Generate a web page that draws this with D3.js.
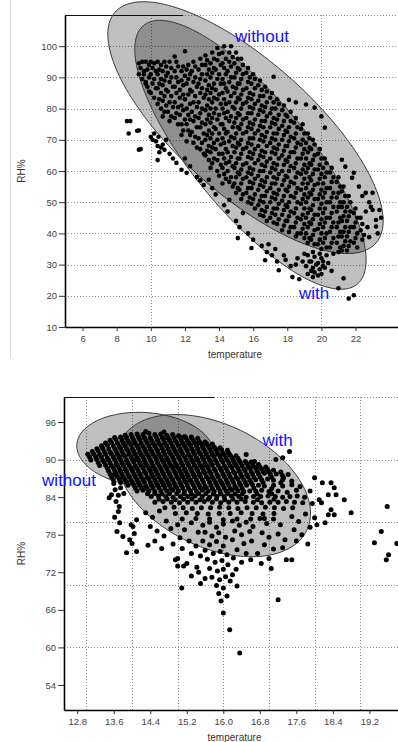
<!DOCTYPE html>
<html>
<head>
<meta charset="utf-8">
<script src="https://cdn.jsdelivr.net/npm/d3@7"></script>
<style>
  body { margin: 0; background: #fff; }
  svg { display: block; }
</style>
</head>
<body>
<svg id="chart" width="398" height="742"></svg>
<script>
// ---- top panel ----
const topXTicks = [6, 8, 10, 12, 14, 16, 18, 20, 22];
const topYTicks = [10, 20, 30, 40, 50, 60, 70, 80, 90, 100];
const topXGrid = [10, 20];
const topYGrid = [20, 30, 40, 50, 60, 70, 80, 90, 100, 110];
const topEllipses = [
  { name: 'without', cx: 15.55, cy: 73.9, rx: 8.07, ry: 40.35, rho: -0.741 },
  { name: 'with', cx: 15.84, cy: 65.2, rx: 6.78, ry: 43.1, rho: -0.784 }
];
const topLabels = [
  { text: 'without', t: 16.52, rh: 101.3 },
  { text: 'with', t: 19.57, rh: 19.0 }
];
const topPoints = [
  [8.6,76],[8.8,76],[9.3,73],[8.7,72],[9.4,67],[9.2,72.9],[9.3,66.8],
  [9.3,94.5],[9.5,95],[9.4,93],[9.6,92],[9.3,91],[9.5,89.5],[9.7,88],
  [9.7,95],[9.9,94],[9.8,92.5],[9.6,91],[9.9,90],[9.7,88.5],[9.8,87],[9.9,85.5],
  [10.0,95],[10.2,94.5],[10.1,93],[10.3,92],[10.0,91],[10.2,89.5],[10.1,88],[10.3,86.5],[10.0,85],[10.2,83.5],
  [10.0,71],[10.1,70],[10.3,69.5],[10.2,72],[10.4,68],[10.4,63.5],[10.5,66],[10.45,71],[10.6,67.5],
  [10.4,95],[10.6,94],[10.5,92.5],[10.4,91],[10.6,89.5],[10.5,88],[10.4,86.5],[10.6,85],[10.5,83],[10.4,81.5],[10.6,80],
  [10.8,95],[10.9,93.5],[10.7,92],[10.9,90.5],[10.8,89],[10.7,87.5],[10.9,86],[10.8,84],[10.7,82.5],[10.9,81],[10.8,79],[10.7,77.5],
  [10.8,66.8],[10.7,68.5],[10.9,70],
  [11.1,95],[11.2,93],[11.0,91.5],[11.2,90],[11.1,88.5],[11.3,87],[11.0,85.5],[11.2,84],[11.1,82],[11.3,80.5],[11.0,79],[11.2,77.5],[11.1,76],
  [11.1,65.5],[11.3,64],
  [11.5,95],[11.4,96.7],[11.6,93.5],[11.4,92],[11.5,90],[11.6,88.5],[11.4,87],[11.5,85],[11.7,83.5],[11.4,82],[11.6,80.5],[11.5,78.5],[11.4,77],[11.6,75],[11.5,62.6],
  [11.9,93.5],[11.8,92],[12.0,90.5],[11.8,89],[11.9,87.5],[11.7,86],[11.9,84.5],[12.0,83],[11.8,81],[11.9,79.5],[11.7,78],[12.0,76.5],[11.8,75],[11.9,73],[11.8,71.5],
  [11.8,60.4],[12.0,64],
  [12.0,98.4],[12.2,94],[12.1,92.5],[12.3,91],[12.2,89.5],[12.1,88],[12.3,86],[12.2,84.5],[12.0,83],[12.3,81.5],[12.1,80],[12.2,78],[12.3,76.5],[12.1,75],[12.2,73],[12.3,71.5],[12.1,69.5],
  [12.1,59.4],[12.3,61.5],
  [12.5,95],[12.6,93.5],[12.4,92],[12.6,90],[12.5,88.5],[12.7,87],[12.4,85.5],[12.6,84],[12.5,82],[12.7,80.5],[12.4,79],[12.6,77.5],[12.5,76],[12.7,74],[12.4,72.5],[12.6,71],[12.5,69],[12.7,67.5],
  [12.7,58.1],
  [12.9,96],[13.0,94],[12.8,92.5],[13.0,91],[12.9,89.5],[12.8,88],[13.0,86.5],[12.9,85],[13.1,83.5],[12.8,82],[13.0,80],[12.9,78.5],[12.8,77],[13.0,75.5],[12.9,74],[13.1,72],[12.8,70.5],[13.0,69],[12.9,67],[13.1,65.5],
  [12.9,57],[13.1,55.5],
  [13.2,97],[13.3,95.5],[13.2,94],[13.4,92.5],[13.3,91],[13.2,89],[13.4,87.5],[13.3,86],[13.2,84.5],[13.4,83],[13.3,81],[13.2,79.5],[13.4,78],[13.3,76.5],[13.2,75],[13.4,73],[13.3,71.5],[13.2,70],[13.4,68],[13.3,66.5],[13.2,65],[13.4,63.5],
  [13.4,57.2],
  [13.6,98],[13.7,96],[13.5,94.5],[13.7,93],[13.6,91.5],[13.5,90],[13.7,88],[13.6,86.5],[13.5,85],[13.7,83.5],[13.6,82],[13.5,80],[13.7,78.5],[13.6,77],[13.5,75.5],[13.7,74],[13.6,72],[13.5,70.5],[13.7,69],[13.6,67.5],[13.5,66],[13.7,64],[13.6,62.5],[13.5,61],
  [13.6,54.5],[13.8,52.5],
  [13.9,99.4],[14.0,97.5],[13.9,95.5],[14.1,94],[13.8,92.5],[14.0,91],[13.9,89.5],[14.1,88],[13.8,86],[14.0,84.5],[13.9,83],[14.1,81.5],[13.8,80],[14.0,78],[13.9,76.5],[14.1,75],[13.8,73.5],[14.0,72],[13.9,70],[14.1,68.5],[13.8,67],[14.0,65.5],[13.9,63.5],[14.1,62],[13.9,60],[14.0,58.5],
  [14.2,97.9],[14.3,100],[14.4,96],[14.2,94.5],[14.3,93],[14.4,91],[14.2,89.5],[14.3,88],[14.4,86.5],[14.2,85],[14.3,83],[14.4,81.5],[14.2,80],[14.3,78.5],[14.4,77],[14.2,75],[14.3,73.5],[14.4,72],[14.2,70.5],[14.3,69],[14.4,67],[14.2,65.5],[14.3,64],[14.4,62.5],[14.2,61],[14.3,59],[14.4,57.5],[14.2,56],
  [14.3,49],[14.5,47],
  [14.7,100],[14.6,98],[14.8,96.5],[14.6,95],[14.7,93.5],[14.5,92],[14.7,90],[14.6,88.5],[14.8,87],[14.5,85.5],[14.7,84],[14.6,82],[14.8,80.5],[14.5,79],[14.7,77.5],[14.6,76],[14.8,74],[14.5,72.5],[14.7,71],[14.6,69.5],[14.8,68],[14.5,66],[14.7,64.5],[14.6,63],[14.8,61.5],[14.5,60],[14.7,58],[14.6,56.5],[14.8,55],
  [14.6,50.8],
  [15.0,98],[15.1,96],[14.9,94.5],[15.1,93],[15.0,91.5],[14.9,90],[15.1,88],[15.0,86.5],[14.9,85],[15.1,83.5],[15.0,82],[14.9,80],[15.1,78.5],[15.0,77],[14.9,75.5],[15.1,74],[15.0,72],[14.9,70.5],[15.1,69],[15.0,67.5],[14.9,66],[15.1,64],[15.0,62.5],[14.9,61],[15.1,59.5],[15.0,58],[14.9,56],[15.1,54.5],[15.0,53],
  [15.1,38.5],[15.0,44],[15.2,42],
  [15.3,96],[15.4,94],[15.2,92.5],[15.4,91],[15.3,89.5],[15.2,88],[15.4,86],[15.3,84.5],[15.2,83],[15.4,81.5],[15.3,80],[15.2,78],[15.4,76.5],[15.3,75],[15.2,73.5],[15.4,72],[15.3,70],[15.2,68.5],[15.4,67],[15.3,65.5],[15.2,64],[15.4,62],[15.3,60.5],[15.2,59],[15.4,57.5],[15.3,56],[15.2,54],[15.4,52.5],[15.3,51],[15.4,46.5],
  [15.7,93],[15.6,91.5],[15.8,90],[15.7,88.5],[15.6,86.5],[15.8,85],[15.7,83.5],[15.6,82],[15.8,80.5],[15.7,78.5],[15.6,77],[15.8,75.5],[15.7,74],[15.6,72.5],[15.8,70.5],[15.7,69],[15.6,67.5],[15.8,66],[15.7,64.5],[15.6,62.5],[15.8,61],[15.7,59.5],[15.6,58],[15.8,56.5],[15.7,54.5],[15.6,53],[15.8,51.5],[15.7,50],[15.9,35.3],[15.7,40],
  [16.0,91],[16.1,89.5],[15.9,88],[16.1,86.5],[16.0,84.5],[15.9,83],[16.1,81.5],[16.0,80],[15.9,78.5],[16.1,76.5],[16.0,75],[15.9,73.5],[16.1,72],[16.0,70.5],[15.9,68.5],[16.1,67],[16.0,65.5],[15.9,64],[16.1,62.5],[16.0,60.5],[15.9,59],[16.1,57.5],[16.0,56],[15.9,54.5],[16.1,52.5],[16.0,51],[15.9,49.5],[16.1,48],[16.0,38],
  [16.4,89],[16.3,87.5],[16.5,86],[16.4,84],[16.3,82.5],[16.5,81],[16.4,79.5],[16.3,78],[16.5,76],[16.4,74.5],[16.3,73],[16.5,71.5],[16.4,70],[16.3,68],[16.5,66.5],[16.4,65],[16.3,63.5],[16.5,62],[16.4,60],[16.3,58.5],[16.5,57],[16.4,55.5],[16.3,54],[16.5,52],[16.4,50.5],[16.3,49],[16.5,47.5],[16.4,46],[16.7,31.4],[16.5,36],
  [16.7,87],[16.8,85.5],[16.6,84],[16.8,82],[16.7,80.5],[16.6,79],[16.8,77.5],[16.7,76],[16.6,74],[16.8,72.5],[16.7,71],[16.6,69.5],[16.8,68],[16.7,66],[16.6,64.5],[16.8,63],[16.7,61.5],[16.6,60],[16.8,58],[16.7,56.5],[16.6,55],[16.8,53.5],[16.7,52],[16.6,50],[16.8,48.5],[16.7,47],[16.6,45.5],[16.8,44],[16.8,34],[16.9,36.5],
  [17.2,90.2],[17.1,85],[17.0,83.5],[17.2,82],[17.1,80],[17.0,78.5],[17.2,77],[17.1,75.5],[17.0,74],[17.2,72],[17.1,70.5],[17.0,69],[17.2,67.5],[17.1,66],[17.0,64],[17.2,62.5],[17.1,61],[17.0,59.5],[17.2,58],[17.1,56],[17.0,54.5],[17.2,53],[17.1,51.5],[17.0,50],[17.2,48],[17.1,46.5],[17.0,45],[17.2,43.5],[17.1,33],[17.3,35],
  [17.4,83],[17.5,81.5],[17.3,80],[17.5,78],[17.4,76.5],[17.3,75],[17.5,73.5],[17.4,72],[17.3,70],[17.5,68.5],[17.4,67],[17.3,65.5],[17.5,64],[17.4,62],[17.3,60.5],[17.5,59],[17.4,57.5],[17.3,56],[17.5,54],[17.4,52.5],[17.3,51],[17.5,49.5],[17.4,48],[17.3,46],[17.5,44.5],[17.4,43],[17.5,28.2],[17.4,31],
  [17.8,81],[17.7,79.5],[17.9,78],[17.8,76],[17.7,74.5],[17.9,73],[17.8,71.5],[17.7,70],[17.9,68],[17.8,66.5],[17.7,65],[17.9,63.5],[17.8,62],[17.7,60],[17.9,58.5],[17.8,57],[17.7,55.5],[17.9,54],[17.8,52],[17.7,50.5],[17.9,49],[17.8,47.5],[17.7,46],[17.9,44],[17.8,42.5],[17.7,41],[17.9,31.5],[17.8,33],
  [18.1,82.8],[18.2,79],[18.0,77.5],[18.2,76],[18.1,74],[18.0,72.5],[18.2,71],[18.1,69.5],[18.0,68],[18.2,66],[18.1,64.5],[18.0,63],[18.2,61.5],[18.1,60],[18.0,58],[18.2,56.5],[18.1,55],[18.0,53.5],[18.2,52],[18.1,50],[18.0,48.5],[18.2,47],[18.1,45.5],[18.0,44],[18.2,42],[18.1,40.5],[18.3,26],[18.2,29.5],
  [18.5,82],[18.5,77],[18.4,75.5],[18.6,74],[18.5,72],[18.4,70.5],[18.6,69],[18.5,67.5],[18.4,66],[18.6,64],[18.5,62.5],[18.4,61],[18.6,59.5],[18.5,58],[18.4,56],[18.6,54.5],[18.5,53],[18.4,51.5],[18.6,50],[18.5,48],[18.4,46.5],[18.6,45],[18.5,43.5],[18.4,42],[18.6,40],[18.5,39],[18.7,25.3],[18.5,30],[18.6,32],
  [18.9,75],[18.8,73.5],[19.0,72],[18.9,70],[18.8,68.5],[19.0,67],[18.9,65.5],[18.8,64],[19.0,62],[18.9,60.5],[18.8,59],[19.0,57.5],[18.9,56],[18.8,54],[19.0,52.5],[18.9,51],[18.8,49.5],[19.0,48],[18.9,46],[18.8,44.5],[19.0,43],[18.9,41.5],[18.8,40],[19.0,38.5],[18.9,31],[19.0,33.5],
  [19.1,81.3],[19.2,72],[19.3,70.5],[19.1,69],[19.3,67.5],[19.2,66],[19.1,64],[19.3,62.5],[19.2,61],[19.1,59.5],[19.3,58],[19.2,56],[19.1,54.5],[19.3,53],[19.2,51.5],[19.1,50],[19.3,48],[19.2,46.5],[19.1,45],[19.3,43.5],[19.2,42],[19.1,40],[19.3,38.5],[19.2,37],
  [19.2,33],[19.3,31],[19.1,29.5],[19.4,28],[19.2,27],
  [19.6,80.3],[19.5,70],[19.6,68.5],[19.4,67],[19.6,65],[19.5,63.5],[19.4,62],[19.6,60.5],[19.5,59],[19.4,57],[19.6,55.5],[19.5,54],[19.4,52.5],[19.6,51],[19.5,49],[19.4,47.5],[19.6,46],[19.5,44.5],[19.4,43],[19.6,41],[19.5,39.5],[19.4,38],[19.6,36.5],
  [19.5,34],[19.6,32.5],[19.4,31],[19.7,30],[19.5,29],[19.6,27.5],[19.5,26],
  [20.0,77.5],[19.9,67],[19.8,65.5],[20.0,64],[19.9,62],[19.8,60.5],[20.0,59],[19.9,57.5],[19.8,56],[20.0,54],[19.9,52.5],[19.8,51],[20.0,49.5],[19.9,48],[19.8,46],[20.0,44.5],[19.9,43],[19.8,41.5],[20.0,40],[19.9,38],[19.8,36.5],[20.0,35],
  [19.9,33.5],[20.0,32],[19.8,30.5],[20.1,29.5],[19.9,28.5],[20.0,27],[19.8,26.5],[20.1,31],
  [20.2,73.9],[20.2,64],[20.3,62.5],[20.1,61],[20.3,59.5],[20.2,58],[20.1,56],[20.3,54.5],[20.2,53],[20.1,51.5],[20.3,50],[20.2,48],[20.1,46.5],[20.3,45],[20.2,43.5],[20.1,42],[20.3,40],[20.2,38.5],[20.1,37],[20.3,35.5],
  [20.3,33],[20.4,30.5],[20.2,29],
  [20.6,61],[20.5,59.5],[20.7,58],[20.6,56.5],[20.5,54.5],[20.7,53],[20.6,51.5],[20.5,50],[20.7,48.5],[20.6,46.5],[20.5,45],[20.7,43.5],[20.6,42],[20.5,40.5],[20.7,38.5],[20.6,37],[20.5,35.5],[20.7,33.5],[20.6,28],
  [21.0,58],[20.9,56.5],[21.1,55],[21.0,53],[20.9,51.5],[21.1,50],[21.0,48.5],[20.9,47],[21.1,45],[21.0,43.5],[20.9,42],[21.1,40.5],[21.0,39],[20.9,37],[21.1,35.5],[21.0,34],[21.0,22.4],[21.3,25.6],[21.2,63.6],
  [21.3,55],[21.2,53.5],[21.4,52],[21.3,50],[21.2,48.5],[21.4,47],[21.3,45.5],[21.2,44],[21.4,42],[21.3,40.5],[21.2,39],[21.4,37.5],[21.3,36],[21.2,34.5],[21.4,61.4],
  [21.6,52],[21.7,50],[21.5,48.5],[21.7,47],[21.6,45.5],[21.5,44],[21.7,42],[21.6,40.5],[21.5,39],[21.7,37.5],[21.6,36],[21.5,34.5],[21.6,19.1],[21.9,20.2],[21.9,59.4],[21.8,57.8],
  [22.0,48],[21.9,46.5],[22.1,45],[22.0,43.5],[21.9,42],[22.1,40],[22.0,38.5],[21.9,37],[22.1,35.5],[22.2,55],[22.4,52],[22.6,53],
  [22.3,45],[22.4,43],[22.3,41],[22.5,39.5],[22.4,38],[22.6,47],[22.8,50],[22.7,42],[22.8,38.8],
  [23.5,45],[23.4,47.5],[23.2,42.2],[23.0,53],[22.9,48.5],[23.3,40],[23.0,47.5],[23.2,44.3]
];

// ---- bottom panel ----
const botXTicks = [12.8, 13.6, 14.4, 15.2, 16.0, 16.8, 17.6, 18.4, 19.2];
const botYTicks = [54, 60, 66, 72, 78, 84, 90, 96];
const botXGrid = [13, 14, 15, 16, 17, 18, 19];
const botYGrid = [60, 70, 80, 90, 100];
const botEllipses = [
  { name: 'without', cx: 14.29, cy: 91.6, rx: 1.50, ry: 5.95, rho: -0.1 },
  { name: 'with', cx: 15.79, cy: 85.84, rx: 2.12, ry: 11.36, rho: -0.39 }
];
const botLabels = [
  { text: 'without', t: 12.62, rh: 85.8 },
  { text: 'with', t: 17.19, rh: 92.2 }
];
const botPoints = [
  [14.3,94.5],[14.7,94.4],[15.3,93.6],
  [13.85,93.9],[13.98,94],[14.11,94.1],[14.24,94],[14.37,94.2],[14.5,94],[14.63,94.1],[14.76,93.9],[14.89,94],[15.02,93.8],[15.15,93.7],
  [13.62,93.55],[13.75,93.6],[13.88,93.5],[14.01,93.55],[14.14,93.6],[14.27,93.55],[14.4,93.5],[14.53,93.6],[14.66,93.55],[14.79,93.5],[14.92,93.55],[15.05,93.6],[15.18,93.5],[15.31,93.45],[15.44,93.4],
  [13.52,93.1],[13.65,93.2],[13.78,93.1],[13.91,93],[14.04,93.1],[14.17,93.2],[14.3,93.1],[14.43,93],[14.56,93.1],[14.69,93.2],[14.82,93.1],[14.95,93],[15.08,93.1],[15.21,93],[15.34,93.1],[15.47,92.9],[15.6,92.8],
  [13.42,92.65],[13.55,92.7],[13.68,92.6],[13.81,92.65],[13.94,92.7],[14.07,92.65],[14.2,92.6],[14.33,92.7],[14.46,92.65],[14.59,92.6],[14.72,92.65],[14.85,92.7],[14.98,92.65],[15.11,92.6],[15.24,92.65],[15.37,92.7],[15.5,92.6],[15.63,92.55],[15.76,92.5],
  [13.33,92.2],[13.46,92.3],[13.59,92.2],[13.72,92.1],[13.85,92.2],[13.98,92.3],[14.11,92.2],[14.24,92.1],[14.37,92.2],[14.5,92.2],[14.63,92.3],[14.76,92.2],[14.89,92.1],[15.02,92.2],[15.15,92.2],[15.28,92.3],[15.41,92.2],[15.54,92.1],[15.67,92.2],[15.8,92],[15.93,91.9],
  [13.23,91.75],[13.36,91.8],[13.49,91.7],[13.62,91.75],[13.75,91.8],[13.88,91.75],[14.01,91.7],[14.14,91.8],[14.27,91.75],[14.4,91.7],[14.53,91.75],[14.66,91.8],[14.79,91.75],[14.92,91.7],[15.05,91.75],[15.18,91.8],[15.31,91.75],[15.44,91.7],[15.57,91.75],[15.7,91.8],[15.83,91.7],[15.96,91.6],[16.09,91.5],
  [13.13,91.3],[13.26,91.4],[13.39,91.3],[13.52,91.2],[13.65,91.3],[13.78,91.3],[13.91,91.4],[14.04,91.3],[14.17,91.2],[14.3,91.3],[14.43,91.3],[14.56,91.4],[14.69,91.3],[14.82,91.2],[14.95,91.3],[15.08,91.3],[15.21,91.4],[15.34,91.3],[15.47,91.2],[15.6,91.3],[15.73,91.3],[15.86,91.2],[15.99,91.1],[16.12,91],
  [13.03,90.85],[13.16,90.9],[13.29,90.8],[13.42,90.85],[13.55,90.9],[13.68,90.85],[13.81,90.8],[13.94,90.9],[14.07,90.85],[14.2,90.8],[14.33,90.85],[14.46,90.9],[14.59,90.85],[14.72,90.8],[14.85,90.85],[14.98,90.9],[15.11,90.85],[15.24,90.8],[15.37,90.85],[15.5,90.9],[15.63,90.85],[15.76,90.8],[15.89,90.85],[16.02,90.8],[16.15,90.7],[16.28,90.6],
  [13.07,90.4],[13.2,90.5],[13.33,90.4],[13.46,90.3],[13.59,90.4],[13.72,90.4],[13.85,90.5],[13.98,90.4],[14.11,90.3],[14.24,90.4],[14.37,90.4],[14.5,90.5],[14.63,90.4],[14.76,90.3],[14.89,90.4],[15.02,90.4],[15.15,90.5],[15.28,90.4],[15.41,90.3],[15.54,90.4],[15.67,90.4],[15.8,90.5],[15.93,90.4],[16.06,90.3],[16.19,90.3],[16.32,90.2],
  [13.1,89.95],[13.23,90],[13.36,89.9],[13.49,89.95],[13.62,90],[13.75,89.95],[13.88,89.9],[14.01,90],[14.14,89.95],[14.27,89.9],[14.4,89.95],[14.53,90],[14.66,89.95],[14.79,89.9],[14.92,89.95],[15.05,90],[15.18,89.95],[15.31,89.9],[15.44,89.95],[15.57,90],[15.7,89.95],[15.83,89.9],[15.96,89.95],[16.09,89.9],[16.22,89.85],[16.35,89.8],[16.48,89.7],[16.61,89.6],
  [13.26,89.5],[13.39,89.6],[13.52,89.5],[13.65,89.4],[13.78,89.5],[13.91,89.5],[14.04,89.6],[14.17,89.5],[14.3,89.4],[14.43,89.5],[14.56,89.5],[14.69,89.6],[14.82,89.5],[14.95,89.4],[15.08,89.5],[15.21,89.5],[15.34,89.6],[15.47,89.5],[15.6,89.4],[15.73,89.5],[15.86,89.5],[15.99,89.6],[16.12,89.5],[16.25,89.4],[16.38,89.5],[16.51,89.4],[16.64,89.3],[16.77,89.2],
  [13.29,89.05],[13.42,89.1],[13.55,89],[13.68,89.05],[13.81,89.1],[13.94,89.05],[14.07,89],[14.2,89.1],[14.33,89.05],[14.46,89],[14.59,89.05],[14.72,89.1],[14.85,89.05],[14.98,89],[15.11,89.05],[15.24,89.1],[15.37,89.05],[15.5,89],[15.63,89.05],[15.76,89.1],[15.89,89.05],[16.02,89],[16.15,89.05],[16.28,89.1],[16.41,89],[16.54,88.95],[16.67,88.9],[16.8,88.85],[16.93,88.8],
  [13.46,88.6],[13.59,88.7],[13.72,88.6],[13.85,88.5],[13.98,88.6],[14.11,88.6],[14.24,88.7],[14.37,88.6],[14.5,88.5],[14.63,88.6],[14.76,88.6],[14.89,88.7],[15.02,88.6],[15.15,88.5],[15.28,88.6],[15.41,88.6],[15.54,88.7],[15.67,88.6],[15.8,88.5],[15.93,88.6],[16.06,88.6],[16.19,88.7],[16.32,88.6],[16.45,88.5],[16.58,88.6],[16.71,88.6],[16.84,88.5],[16.97,88.4],[17.1,88.3],
  [13.49,88.15],[13.62,88.2],[13.75,88.1],[13.88,88.15],[14.01,88.2],[14.14,88.15],[14.27,88.1],[14.4,88.2],[14.53,88.15],[14.66,88.1],[14.79,88.15],[14.92,88.2],[15.05,88.15],[15.18,88.1],[15.31,88.15],[15.44,88.2],[15.57,88.15],[15.7,88.1],[15.83,88.15],[15.96,88.2],[16.09,88.15],[16.22,88.1],[16.35,88.15],[16.48,88.2],[16.61,88.1],[16.74,88.15],[16.87,88.1],[17.0,88.05],[17.26,88],
  [13.52,87.7],[13.65,87.8],[13.78,87.7],[13.91,87.6],[14.04,87.7],[14.17,87.7],[14.3,87.8],[14.43,87.7],[14.56,87.6],[14.69,87.7],[14.82,87.7],[14.95,87.8],[15.08,87.7],[15.21,87.6],[15.34,87.7],[15.47,87.7],[15.6,87.8],[15.73,87.7],[15.86,87.6],[15.99,87.7],[16.12,87.7],[16.25,87.8],[16.38,87.7],[16.51,87.6],[16.64,87.7],[16.77,87.7],[16.9,87.8],[17.03,87.6],[17.16,87.7],[17.29,87.5],[17.42,87.6],
  [13.55,87.25],[13.68,87.3],[13.81,87.2],[13.94,87.25],[14.07,87.3],[14.2,87.25],[14.33,87.2],[14.46,87.3],[14.59,87.25],[14.72,87.2],[14.85,87.25],[14.98,87.3],[15.11,87.25],[15.24,87.2],[15.37,87.25],[15.5,87.3],[15.63,87.25],[15.76,87.2],[15.89,87.25],[16.02,87.3],[16.15,87.25],[16.28,87.2],[16.41,87.25],[16.54,87.3],[16.67,87.2],[16.8,87.25],[17.06,87.2],[17.32,87.1],
  [13.59,86.8],[13.72,86.9],[13.85,86.8],[13.98,86.7],[14.11,86.8],[14.24,86.8],[14.37,86.9],[14.5,86.8],[14.63,86.7],[14.76,86.8],[14.89,86.8],[15.02,86.9],[15.15,86.8],[15.28,86.7],[15.41,86.8],[15.54,86.8],[15.67,86.9],[15.8,86.8],[15.93,86.7],[16.06,86.8],[16.19,86.8],[16.32,86.9],[16.45,86.8],[16.58,86.7],[16.71,86.8],[16.84,86.8],[16.97,86.9],[17.1,86.7],[17.3,86.8],[17.5,86.6],
  [13.75,86.35],[13.88,86.4],[14.01,86.3],[14.14,86.35],[14.27,86.4],[14.4,86.35],[14.53,86.3],[14.66,86.4],[14.79,86.35],[14.92,86.3],[15.05,86.35],[15.18,86.4],[15.31,86.35],[15.44,86.3],[15.57,86.35],[15.7,86.4],[15.83,86.35],[15.96,86.3],[16.09,86.35],[16.22,86.4],[16.35,86.3],[16.48,86.35],[16.61,86.3],[16.87,86.35],[17.26,86.3],
  [13.91,85.9],[14.04,86],[14.17,85.9],[14.3,85.8],[14.43,85.9],[14.56,85.9],[14.69,86],[14.82,85.9],[14.95,85.8],[15.08,85.9],[15.21,85.9],[15.34,86],[15.47,85.9],[15.6,85.8],[15.73,85.9],[15.86,85.9],[15.99,86],[16.12,85.9],[16.25,85.8],[16.38,85.9],[16.51,85.9],[16.64,86],[16.77,85.9],[16.9,85.8],[17.1,85.9],[17.3,85.8],[17.5,86],[17.68,85.7],
  [14.07,85.45],[14.2,85.5],[14.33,85.4],[14.46,85.45],[14.59,85.5],[14.72,85.45],[14.85,85.4],[14.98,85.5],[15.11,85.45],[15.24,85.4],[15.37,85.45],[15.5,85.5],[15.63,85.45],[15.76,85.4],[15.89,85.45],[16.02,85.5],[16.15,85.4],[16.28,85.45],[16.41,85.4],[16.67,85.45],[17.06,85.4],
  [14.11,85],[14.24,85.1],[14.37,85],[14.5,84.9],[14.63,85],[14.76,85],[14.89,85.1],[15.02,85],[15.15,84.9],[15.28,85],[15.41,85],[15.54,85.1],[15.67,85],[15.8,84.9],[15.93,85],[16.06,85],[16.19,85.1],[16.32,85],[16.45,84.9],[16.58,85],[16.71,85],[16.84,85.1],[17.0,84.9],[17.2,85],[17.4,84.8],[17.6,85.1],
  [14.34,84.55],[14.5,84.6],[14.66,84.5],[14.82,84.55],[14.98,84.6],[15.14,84.55],[15.3,84.5],[15.46,84.6],[15.62,84.55],[15.78,84.5],[15.94,84.55],[16.1,84.6],[16.26,84.5],[16.42,84.55],[16.74,84.5],[17.06,84.55],
  [14.42,84.1],[14.58,84.2],[14.74,84.1],[14.9,84],[15.06,84.1],[15.22,84.1],[15.38,84.2],[15.54,84.1],[15.7,84],[15.86,84.1],[16.02,84.1],[16.18,84.2],[16.34,84.1],[16.5,84],[16.66,84.1],[16.82,84.1],[16.98,84.2],[17.14,84.1],[17.3,84],[17.46,84.1],[17.62,84.2],[17.78,84],
  [14.59,83.65],[14.77,83.7],[14.95,83.6],[15.13,83.65],[15.31,83.7],[15.49,83.6],[15.67,83.65],[15.85,83.7],[16.03,83.6],[16.21,83.65],[16.39,83.7],[16.75,83.6],[17.11,83.65],
  [14.5,83.2],[14.68,83.3],[14.86,83.2],[15.04,83.1],[15.22,83.2],[15.4,83.2],[15.58,83.3],[15.76,83.2],[15.94,83.1],[16.12,83.2],[16.3,83.2],[16.48,83.3],[16.66,83.2],[16.84,83.1],[17.02,83.2],[17.2,83.2],[17.38,83.3],[17.56,83.2],[17.74,83.1],
  [14.72,82.3],[14.92,82.4],[15.12,82.3],[15.32,82.2],[15.52,82.3],[15.72,82.3],[15.92,82.4],[16.12,82.3],[16.32,82.2],[16.52,82.3],[16.72,82.3],[16.92,82.4],[17.12,82.3],[17.32,82.2],[17.52,82.3],
  [14.95,81.4],[15.19,81.5],[15.43,81.4],[15.67,81.3],[15.91,81.4],[16.15,81.4],[16.39,81.5],[16.63,81.4],[16.87,81.3],[17.11,81.4],
  [15.1,80.5],[15.4,80.6],[15.7,80.5],[16.0,80.4],[16.3,80.5],[16.6,80.5],[16.9,80.6],
  [13.63,85.2],[13.7,84.3],[13.65,83.3],[13.72,82.5],[13.7,81.7],[13.62,80.8],[13.73,79.9],[13.67,78.5],[13.8,77.7],[13.88,75.1],[13.95,77.2],[14.02,79.3],[14.1,80.4],[14.1,75.3],
  [13.6,86.2],[13.75,85.5],[13.82,84.6],[13.58,87.5],[13.55,84.4],[13.5,83.9],[13.98,79.6],[14.05,78.2],[14.0,76.6],
  [14.3,81.5],[14.45,80.8],[14.6,81.8],[14.75,80.2],[14.4,79.3],[14.55,78.6],[14.85,79.0],[14.7,77.8],[14.5,77.0],[14.9,76.5],[14.65,75.8],[14.35,76.3],
  [15.0,79.6],[15.15,78.8],[15.3,79.9],[15.45,78.4],[15.05,77.5],[15.25,77.0],[15.4,76.2],[15.1,75.8],[15.3,75.0],[15.5,74.6],[15.0,74.2],[15.2,73.4],[15.42,72.8],[15.13,73.0],[15.09,69.5],[15.3,71.4],[15.46,72.0],[15.0,73.0],[14.95,74.0],
  [15.55,79.5],[15.7,80.0],[15.85,79.2],[16.0,79.7],[15.6,78.4],[15.75,77.8],[15.9,78.3],[16.05,77.6],[15.55,77.0],[15.7,76.4],[15.85,76.9],[16.0,76.2],[15.6,75.5],[15.78,75.0],[15.93,75.3],[16.08,74.8],[15.65,74.1],[15.82,73.6],[15.97,73.9],[16.1,73.2],[15.7,72.6],[15.87,72.2],[16.0,72.5],[15.75,71.2],[15.92,70.8],[16.05,71.3],[15.85,69.9],[16.0,69.5],[15.9,68.6],[16.08,68.2],[15.95,67.4],[16.0,65.5],[16.14,62.8],[16.36,59.1],[15.6,71.0],[15.5,70.2],
  [16.2,80.2],[16.35,79.5],[16.5,80.0],[16.65,79.3],[16.25,78.6],[16.4,78.0],[16.58,78.5],[16.2,77.2],[16.45,76.6],[16.62,77.0],[16.3,75.6],[16.5,75.0],[16.22,74.3],[16.4,73.6],[16.6,74.0],[16.28,72.5],[16.15,70.6],[16.3,69.8],[16.2,71.6],
  [16.8,80.6],[16.95,79.8],[17.1,80.5],[17.25,79.6],[16.85,78.3],[17.0,77.6],[17.2,78.1],[17.35,77.2],[16.9,76.4],[17.1,75.7],[17.3,75.9],[16.83,73.4],[17.05,72.6],[17.2,67.6],[17.38,74.0],[17.5,74.0],[16.75,75.0],[17.0,74.2],
  [17.5,80.9],[17.65,80.1],[17.8,81.3],[17.55,78.8],[17.72,78.0],[17.9,79.2],[17.6,77.0],[17.85,76.5],
  [18.0,87.1],[18.17,86.3],[18.36,86.3],[18.43,85.5],[18.47,84.4],[18.3,84.4],[18.65,83.6],[18.1,83.6],[18.15,83.1],[18.36,82.0],[18.43,81.2],[18.3,81.2],[18.23,79.9],[18.05,79.6],[18.8,81.5],[18.0,80.7],
  [19.59,82.5],[19.46,78.5],[19.31,76.7],[19.62,74.8],[19.8,76.6],[19.57,74.0],
  [17.45,91.3],[17.3,90.3],[16.5,90.8],[16.68,89.7],[17.15,90.0],[17.9,85.0],[17.95,83.0]
];

// ---- drawing ----
const FONT = 'Liberation Sans, Arial, Helvetica, sans-serif';
const svg = d3.select('#chart');

// faint page rule on the left of the upper chart
svg.append('line')
  .attr('x1', 10.5).attr('x2', 10.5).attr('y1', 0).attr('y2', 358)
  .attr('stroke', '#dedede').attr('stroke-width', 1);

const panels = [
  {
    left: 65, right: 405, top: 15, bottom: 327,
    xDomain: [4.97, 24.9], yDomain: [10, 110],
    xTicks: topXTicks, yTicks: topYTicks, xGrid: topXGrid, yGrid: topYGrid,
    xFormat: d3.format('d'), borderTo: 11.9,
    ellipses: topEllipses, labels: topLabels, points: topPoints, r: 2.3,
    xTitleY: 358
  },
  {
    left: 64, right: 405, top: 397, bottom: 710,
    xDomain: [12.51, 19.98], yDomain: [50, 100],
    xTicks: botXTicks, yTicks: botYTicks, xGrid: botXGrid, yGrid: botYGrid,
    xFormat: d3.format('.1f'), borderTo: 15.8,
    ellipses: botEllipses, labels: botLabels, points: botPoints, r: 2.5,
    xTitleY: 740.5
  }
];

panels.forEach(drawPanel);

function drawPanel(p) {
  const x = d3.scaleLinear().domain(p.xDomain).range([p.left, p.right]);
  const y = d3.scaleLinear().domain(p.yDomain).range([p.bottom, p.top]);
  const g = svg.append('g');
  const snap = v => Math.round(v) + 0.5;

  // dotted grid
  g.append('g').selectAll('line').data(p.yGrid).join('line')
    .attr('x1', p.left).attr('x2', p.right)
    .attr('y1', d => snap(y(d))).attr('y2', d => snap(y(d)))
    .attr('stroke', '#8c8c8c').attr('stroke-dasharray', '1,2');
  g.append('g').selectAll('line').data(p.xGrid).join('line')
    .attr('y1', p.top).attr('y2', p.bottom)
    .attr('x1', d => snap(x(d))).attr('x2', d => snap(x(d)))
    .attr('stroke', '#8c8c8c').attr('stroke-dasharray', '1,2');

  // partial solid top border
  g.append('line')
    .attr('x1', p.left).attr('x2', x(p.borderTo))
    .attr('y1', snap(y(p.yDomain[1]))).attr('y2', snap(y(p.yDomain[1])))
    .attr('stroke', '#111').attr('stroke-width', 1.2);

  // confidence ellipses
  const angles = d3.range(0, 361, 2).map(a => a * Math.PI / 180);
  const line = d3.line().curve(d3.curveLinearClosed);
  g.append('g').selectAll('path').data(p.ellipses).join('path')
    .attr('d', e => line(angles.map(a => {
      const c = Math.cos(a), s = Math.sin(a);
      const t = e.cx + e.rx * c;
      const rh = e.cy + e.ry * (e.rho * c + Math.sqrt(1 - e.rho * e.rho) * s);
      return [x(t), y(rh)];
    })))
    .attr('fill', '#000').attr('fill-opacity', 0.25)
    .attr('stroke', '#3a3a3a').attr('stroke-width', 1);

  // points
  g.append('g').selectAll('circle').data(p.points).join('circle')
    .attr('cx', d => x(d[0])).attr('cy', d => y(d[1]))
    .attr('r', p.r).attr('fill', '#000');

  // axes
  const xAxis = d3.axisBottom(x).tickValues(p.xTicks).tickFormat(p.xFormat)
    .tickSize(4).tickPadding(4).tickSizeOuter(0);
  const yAxis = d3.axisLeft(y).tickValues(p.yTicks).tickFormat(d3.format('d'))
    .tickSize(6).tickPadding(2).tickSizeOuter(0);
  const styleAxis = a => {
    a.attr('font-family', FONT).attr('font-size', 9.5);
    a.select('.domain').attr('stroke', '#000').attr('stroke-width', 1.6);
    a.selectAll('.tick line').attr('stroke', '#333');
    a.selectAll('.tick text').attr('fill', '#444');
  };
  g.append('g').attr('transform', `translate(0,${p.bottom})`).call(xAxis).call(styleAxis);
  g.append('g').attr('transform', `translate(${p.left},0)`).call(yAxis).call(styleAxis);

  // group labels
  g.append('g').selectAll('text').data(p.labels).join('text')
    .attr('x', d => x(d.t)).attr('y', d => y(d.rh))
    .attr('text-anchor', 'middle')
    .attr('font-family', FONT).attr('font-size', 17)
    .attr('fill', '#1010ff')
    .text(d => d.text);

  // axis titles
  g.append('text')
    .attr('x', (p.left + p.right) / 2).attr('y', p.xTitleY)
    .attr('text-anchor', 'middle')
    .attr('font-family', FONT).attr('font-size', 10).attr('fill', '#333')
    .text('temperature');
  g.append('text')
    .attr('transform', `translate(25,${(p.top + p.bottom) / 2}) rotate(-90)`)
    .attr('text-anchor', 'middle')
    .attr('font-family', FONT).attr('font-size', 10).attr('fill', '#333')
    .text('RH%');
}
</script>
</body>
</html>
